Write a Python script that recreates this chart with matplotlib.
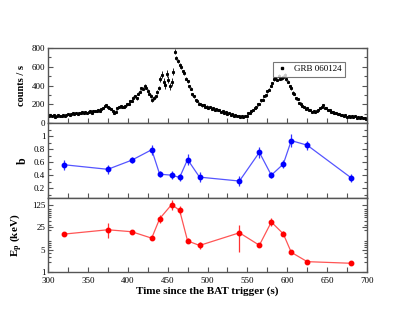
import numpy as np
import matplotlib
matplotlib.use('Agg')
import matplotlib.pyplot as plt
from matplotlib.ticker import MultipleLocator, FixedLocator, LogLocator, NullFormatter, FixedFormatter

plt.rcParams['font.family'] = ['Liberation Serif', 'DejaVu Serif']
plt.rcParams['mathtext.fontset'] = 'stix'

# Light curve, 2 s bins from 300 to 700 s
lc_t = np.arange(301, 700, 2)
lc_rate = [
    70, 82, 74, 86, 68, 80, 88, 76, 72, 84,
    76, 88, 94, 84, 98, 104, 92, 110, 96, 108,
    102, 116, 104, 120, 108, 118, 126, 112, 124, 132,
    126, 142, 130, 150, 164, 178, 190, 172, 162, 146,
    124, 108, 122, 156, 168, 182, 170, 172, 184, 198,
    206, 236, 240, 272, 284, 264, 312, 336, 370, 366,
    398, 376, 346, 312, 290, 246, 268, 286, 330, 378,
    470, 516, 436, 404, 526, 462, 392, 436, 548, 760,
    690, 660, 622, 600, 552, 530, 474, 448, 392, 368,
    306, 286, 246, 238, 208, 206, 188, 190, 172, 176,
    160, 166, 152, 156, 140, 154, 134, 138, 122, 130,
    112, 118, 100, 106, 90, 96, 80, 88, 72, 78,
    64, 72, 66, 74, 78, 102, 106, 128, 134, 156,
    166, 198, 204, 242, 250, 290, 296, 340, 354, 400,
    422, 470, 476, 462, 500, 474, 480, 494, 514, 466,
    438, 392, 370, 324, 308, 264, 254, 214, 208, 180,
    176, 154, 156, 136, 140, 122, 130, 114, 130, 134,
    164, 166, 188, 160, 156, 134, 136, 118, 122, 106,
    112, 94, 100, 82, 90, 74, 82, 68, 78, 64,
    74, 60, 70, 56, 66, 52, 62, 50, 58, 46,
]
lc_err = [
    10, 10, 10, 10, 10, 10, 10, 10, 10, 10,
    10, 10, 10, 10, 10, 10, 10, 10, 10, 10,
    10, 10, 10, 10, 10, 10, 10, 10, 10, 10,
    12, 12, 12, 12, 12, 12, 12, 12, 12, 12,
    12, 12, 12, 12, 12, 12, 12, 12, 12, 12,
    14, 14, 14, 16, 16, 16, 16, 18, 18, 18,
    18, 18, 18, 18, 18, 18, 18, 18, 18, 22,
    30, 35, 40, 38, 40, 40, 38, 40, 40, 25,
    22, 20, 20, 20, 18, 18, 18, 16, 16, 16,
    14, 14, 12, 12, 12, 12, 12, 12, 12, 12,
    10, 10, 10, 10, 10, 10, 10, 10, 10, 10,
    10, 10, 10, 10, 10, 10, 10, 10, 10, 10,
    10, 10, 10, 10, 10, 10, 10, 10, 10, 10,
    12, 12, 12, 14, 14, 14, 14, 16, 16, 16,
    18, 18, 18, 18, 18, 18, 18, 18, 18, 18,
    16, 16, 16, 14, 14, 14, 12, 12, 12, 12,
    10, 10, 10, 10, 10, 10, 10, 10, 10, 10,
    10, 10, 10, 10, 10, 10, 10, 10, 10, 10,
    10, 10, 10, 10, 10, 10, 10, 10, 10, 10,
    10, 10, 10, 10, 10, 10, 10, 10, 10, 10,
]

# Spectral fits
t_fit = [320, 375, 405, 430, 440, 455, 465, 475, 490, 540, 565, 580, 595, 605, 625, 680]
b_val = [0.56, 0.49, 0.63, 0.79, 0.415, 0.40, 0.365, 0.64, 0.37, 0.31, 0.75, 0.40, 0.57, 0.93, 0.86, 0.36]
b_err = [0.08, 0.07, 0.05, 0.08, 0.05, 0.06, 0.05, 0.09, 0.08, 0.08, 0.08, 0.05, 0.06, 0.10, 0.07, 0.06]
ep_val = [15.1, 20.6, 17.9, 11.3, 45.6, 125, 83, 9.3, 6.7, 16.6, 6.8, 35.9, 15.4, 4.1, 2.1, 1.87]
ep_lo = [2.0, 9.3, 2.2, 1.4, 11.4, 38, 21, 1.5, 1.5, 12.3, 0.6, 9.0, 2.5, 0.3, 0.1, 0.1]
ep_hi = [2.5, 12.8, 2.6, 1.7, 15.3, 54, 28, 1.8, 1.9, 12.9, 0.7, 12.0, 3.0, 0.3, 0.1, 0.1]

fig = plt.figure(figsize=(4.15, 3.21), dpi=100)
left, width = 0.1157, 0.7687
ax1 = fig.add_axes([left, 0.6168, width, 0.2336])
ax2 = fig.add_axes([left, 0.3832, width, 0.2336])
ax3 = fig.add_axes([left, 0.1526, width, 0.2305])

spine_col = '#555555'
for ax in (ax1, ax2, ax3):
    ax.set_xlim(300, 700)
    ax.xaxis.set_major_locator(MultipleLocator(50))
    ax.xaxis.set_minor_locator(MultipleLocator(25))
    ax.tick_params(axis='x', which='both', direction='in', top=False, bottom=True,
                   labelsize=6.5, color=spine_col, width=0.8, length=3.5)
    ax.tick_params(axis='y', which='both', direction='in', left=True, right=True,
                   labelsize=6.5, color=spine_col, width=0.8, pad=2)
    ax.tick_params(axis='y', which='major', length=3.5)
    ax.tick_params(axis='y', which='minor', length=2)
    for s in ax.spines.values():
        s.set_color(spine_col)
        s.set_linewidth(1.0)

# light curve
ax1.errorbar(lc_t, lc_rate, yerr=lc_err, fmt='none', ecolor='black',
             elinewidth=0.6, capsize=0)
ax1.plot(lc_t, lc_rate, 's', ms=1.2, color='black', label='GRB 060124')
ax1.set_ylim(0, 800)
ax1.yaxis.set_major_locator(MultipleLocator(200))
ax1.yaxis.set_minor_locator(MultipleLocator(100))
ax1.set_xticklabels([])
ax1.set_ylabel('counts / s', fontsize=7.5, fontweight='bold')
leg = ax1.legend(loc='upper right', bbox_to_anchor=(0.945, 0.875), fontsize=6.5,
                 frameon=True, fancybox=False, handlelength=1.2, handletextpad=0.8,
                 borderpad=0.35, markerscale=1.2)
leg.get_frame().set_edgecolor('#555555')
leg.get_frame().set_linewidth(0.8)

# photon index b
ax2.plot(t_fit, b_val, '-', color='#5555ff', lw=0.9)
ax2.errorbar(t_fit, b_val, yerr=b_err, fmt='o', ms=3.2, color='#0000ff',
             ecolor='#3333ff', elinewidth=0.9, capsize=0)
ax2.set_ylim(0.05, 1.2)
ax2.yaxis.set_major_locator(FixedLocator([0.2, 0.4, 0.6, 0.8, 1.0]))
ax2.yaxis.set_major_formatter(FixedFormatter(['0.2', '0.4', '0.6', '0.8', '1']))
ax2.yaxis.set_minor_locator(MultipleLocator(0.1))
ax2.set_xticklabels([])
ax2.set_ylabel('b', fontsize=8.5, fontweight='bold')

# peak energy
ax3.plot(t_fit, ep_val, '-', color='#ff5555', lw=0.9)
ax3.errorbar(t_fit, ep_val, yerr=[ep_lo, ep_hi], fmt='o', ms=3.2, color='#ff0000',
             ecolor='#ff3333', elinewidth=0.9, capsize=0)
ax3.set_yscale('log')
ax3.set_ylim(1, 200)
ax3.yaxis.set_major_locator(FixedLocator([1, 5, 25, 125]))
ax3.yaxis.set_major_formatter(FixedFormatter(['1', '5', '25', '125']))
ax3.yaxis.set_minor_locator(LogLocator(base=10, subs=np.arange(2, 10)))
ax3.yaxis.set_minor_formatter(NullFormatter())
ax3.set_ylabel(r'E$_{\mathbf{p}}$ (keV)', fontsize=8, fontweight='bold')
ax3.set_xlabel('Time since the BAT trigger (s)', fontsize=8, fontweight='bold', labelpad=1)

ax1.yaxis.set_label_coords(-0.068, 0.5)
ax2.yaxis.set_label_coords(-0.06, 0.5)
ax3.yaxis.set_label_coords(-0.075, 0.5)

fig.savefig('out.png', dpi=100)
